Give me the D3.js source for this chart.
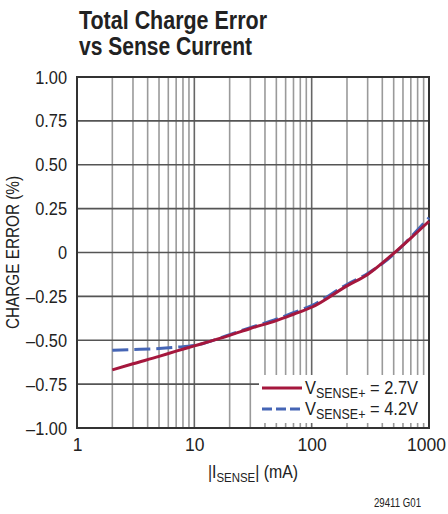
<!DOCTYPE html>
<html><head><meta charset="utf-8">
<script src="https://cdn.jsdelivr.net/npm/d3@7"></script>
<style>
body{margin:0;background:#fff;}
svg{display:block;}
text{font-family:"Liberation Sans",Arial,sans-serif;fill:#222;}
</style></head>
<body>
<script>
const currents = [2, 3, 5, 7, 10, 20, 30, 50, 70, 100, 200, 300, 500, 700, 1000];
const error27V = [-0.669, -0.634, -0.592, -0.562, -0.532, -0.472, -0.433, -0.388, -0.352, -0.312, -0.190, -0.125, -0.005, 0.082, 0.178];
const error42V = [-0.557, -0.553, -0.547, -0.540, -0.530, -0.468, -0.428, -0.380, -0.343, -0.302, -0.182, -0.120, -0.010, 0.088, 0.198];
const yTicks = [-1, -0.75, -0.5, -0.25, 0, 0.25, 0.5, 0.75, 1];
const yTickLabels = ["\u20131.00", "\u20130.75", "\u20130.50", "\u20130.25", "0", "0.25", "0.50", "0.75", "1.00"];
const xTicks = [1, 10, 100, 1000];
const xTickLabels = ["1", "10", "100", "1000"];
const seriesNames = ["2.7V", "4.2V"];

const W = 448, H = 514;
const L = 77, R = 429, T = 77, B = 428;
const svg = d3.select("body").append("svg").attr("width", W).attr("height", H);

const x = d3.scaleLog().domain([1, 1000]).range([L, R]);
const y = d3.scaleLinear().domain([-1, 1]).range([B, T]);

function condense(sel, f) {
  sel.each(function () {
    const w = this.getComputedTextLength();
    d3.select(this).attr("textLength", w * f).attr("lengthAdjust", "spacingAndGlyphs");
  });
}

// title
svg.append("text").attr("x", 79).attr("y", 29).attr("font-size", 25).attr("font-weight", "bold")
  .attr("textLength", 188).attr("lengthAdjust", "spacingAndGlyphs").text("Total Charge Error");
svg.append("text").attr("x", 79).attr("y", 55).attr("font-size", 25).attr("font-weight", "bold")
  .attr("textLength", 173).attr("lengthAdjust", "spacingAndGlyphs").text("vs Sense Current");

// minor vertical grid
const minor = [];
for (let d = 1; d < 1000; d *= 10) for (let k = 2; k <= 9; k++) minor.push(d * k);
const g = svg.append("g");
g.selectAll("line.minor").data(minor).join("line")
  .attr("x1", d => x(d)).attr("x2", d => x(d)).attr("y1", T).attr("y2", B)
  .attr("stroke", "#9a9a9a").attr("stroke-width", 1.6);
g.selectAll("line.dec").data([10, 100]).join("line")
  .attr("x1", d => x(d)).attr("x2", d => x(d)).attr("y1", T).attr("y2", B)
  .attr("stroke", "#666").attr("stroke-width", 1.6);
g.selectAll("line.h").data(yTicks.slice(1, -1)).join("line")
  .attr("x1", L).attr("x2", R).attr("y1", d => y(d)).attr("y2", d => y(d))
  .attr("stroke", "#555").attr("stroke-width", 1.6);

// legend background covering grid
const legX = 259, legY = 375, legBottom = B - 5;
svg.append("rect").attr("x", legX).attr("y", legY).attr("width", R - legX).attr("height", legBottom - legY).attr("fill", "#fff");

// frame
svg.append("rect").attr("x", L).attr("y", T).attr("width", R - L).attr("height", B - T)
  .attr("fill", "none").attr("stroke", "#333").attr("stroke-width", 2);

// axes text
const yAxis = d3.axisLeft(y).tickValues(yTicks).tickFormat((d, i) => yTickLabels[i]).tickSize(0).tickPadding(10);
const ya = svg.append("g").attr("transform", `translate(${L},0)`).call(yAxis);
ya.select(".domain").remove();
ya.selectAll("text").attr("font-size", 19).attr("font-family", "Liberation Sans, Arial, sans-serif").style("fill", "#222");
condense(ya.selectAll("text"), 0.86);

const xAxis = d3.axisBottom(x).tickValues(xTicks).tickFormat((d, i) => xTickLabels[i]).tickSize(0).tickPadding(11);
const xa = svg.append("g").attr("transform", `translate(0,${B})`).call(xAxis);
xa.select(".domain").remove();
xa.selectAll("text").attr("font-size", 17.5).attr("font-family", "Liberation Sans, Arial, sans-serif").style("fill", "#222")
  .attr("dx", d => d === 1000 ? -3 : 0);

// axis titles
svg.append("text").attr("transform", `translate(19,${(T + B) / 2}) rotate(-90)`).attr("text-anchor", "middle")
  .attr("font-size", 17.5).attr("textLength", 153).attr("lengthAdjust", "spacingAndGlyphs").text("CHARGE ERROR (%)");
const xt = svg.append("text").attr("x", (L + R) / 2).attr("y", 478).attr("text-anchor", "middle").attr("font-size", 18);
xt.append("tspan").text("|I");
xt.append("tspan").attr("font-size", 13).attr("dy", 4).text("SENSE");
xt.append("tspan").attr("dy", -4).text("| (mA)");
condense(xt, 0.88);

svg.append("text").attr("x", 421).attr("y", 507).attr("text-anchor", "end").attr("font-size", 12)
  .attr("textLength", 47).attr("lengthAdjust", "spacingAndGlyphs").text("29411 G01");

// curves
const red = "#a5173d", blue = "#4565b5";
const line = d3.line().x(d => x(d[0])).y(d => y(d[1])).curve(d3.curveMonotoneX);
svg.append("path").datum(currents.map((c, i) => [c, error42V[i]])).attr("d", line)
  .attr("fill", "none").attr("stroke", blue).attr("stroke-width", 3).attr("stroke-dasharray", "16,6");
svg.append("path").datum(currents.map((c, i) => [c, error27V[i]])).attr("d", line)
  .attr("fill", "none").attr("stroke", red).attr("stroke-width", 3);

// legend
const leg = [{c: red, dash: null, name: seriesNames[0], yy: 388}, {c: blue, dash: "10,4", name: seriesNames[1], yy: 409}];
leg.forEach(e => {
  svg.append("line").attr("x1", 262).attr("x2", 302).attr("y1", e.yy).attr("y2", e.yy)
    .attr("stroke", e.c).attr("stroke-width", 3).attr("stroke-dasharray", e.dash);
  const t = svg.append("text").attr("x", 305).attr("y", e.yy + 6).attr("font-size", 18.5);
  t.append("tspan").text("V");
  t.append("tspan").attr("font-size", 14).attr("dy", 4).text("SENSE+");
  t.append("tspan").attr("dy", -4).text(" = " + e.name);
  t.attr("textLength", 113).attr("lengthAdjust", "spacingAndGlyphs");
});
</script>
</body></html>
